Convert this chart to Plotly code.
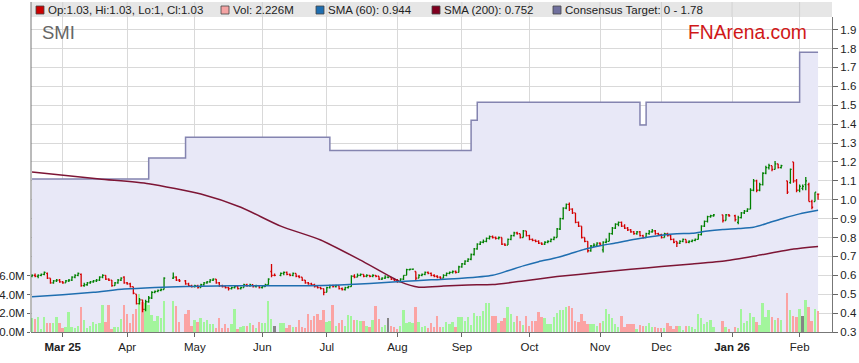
import pandas as pd
import plotly.graph_objects as go

N = None
# trading-day slots (weekdays); holidays carry None
weekdays = pd.bdate_range("2025-02-17", "2026-02-10")

opens = [
 .595,.60,.595,.60,.605,.61,.585,.56,.57,.575,
 .565,.56,.57,.575,.59,.60,.605,.545,.55,.56,
 .565,.57,.575,.59,.60,.58,.575,.545,.56,.575,
 .59,.56,.555,.54,.50,.45,.47,.42,.46,.48,
 .51,.515,.52,.525,N,N,.585,.59,.575,N,
 .57,.555,.545,.54,.545,.535,.55,.56,.565,.575,
 .58,.56,.545,.54,.535,.53,.535,.54,.53,.535,
 .55,.545,.55,.54,.545,.535,.54,.55,.62,.60,
 N,.60,.61,.615,.605,.60,.61,.595,.59,.575,
 .56,.555,.55,.54,.535,.53,.51,.535,.545,.54,
 .545,.53,.525,.535,.54,.595,.59,.60,.605,.595,
 .60,.595,.60,.595,.58,.585,.59,.59,.58,.575,
 .565,.58,.60,.63,.632,.62,.585,.60,.605,.615,
 .61,.60,.595,.59,.585,.60,.61,.615,.62,.615,
 .645,.66,.675,.685,.71,.74,.765,.775,.78,.795,
 .805,.80,.795,.80,.765,.76,.79,.81,.825,.82,
 .80,.835,.81,.79,.785,.78,.77,.765,.775,.78,
 .79,.80,.845,.90,.955,.975,.95,.93,.88,.86,
 .80,.78,.73,.755,.76,.77,.735,.775,.78,.82,
 .85,.87,.88,.86,.85,.84,.83,.82,.83,.81,
 .80,.82,.83,.835,.82,.815,.80,.82,.81,.79,
 .78,.77,.78,.79,.775,.78,.785,.79,.815,.86,
 .885,.91,.915,N,N,.92,.89,.92,N,.915,
 .88,.905,.93,.94,.95,1.05,1.10,1.05,1.08,1.14,
 1.17,1.18,1.16,1.19,1.17,N,1.10,1.09,1.20,1.10,
 1.05,1.06,1.08,1.08,.99,.99,1.03]
highs = [
 .605,.61,.605,.61,.62,.615,.585,.575,.58,.58,
 .57,.575,.58,.595,.605,.615,.61,.56,.565,.57,
 .575,.58,.595,.605,.60,.585,.575,.565,.58,.59,
 .595,.565,.56,.54,.50,.48,.47,.47,.49,.515,
 .52,.525,.53,.59,N,N,.615,.595,.58,N,
 .575,.56,.55,.55,.55,.555,.565,.57,.58,.585,
 .58,.565,.55,.545,.54,.54,.545,.545,.54,.555,
 .555,.555,.55,.55,.545,.545,.555,.585,.66,.61,
 N,.615,.62,.62,.61,.615,.61,.60,.59,.575,
 .565,.56,.555,.545,.54,.53,.54,.55,.55,.55,
 .545,.535,.54,.545,.60,.605,.61,.61,.605,.605,
 .60,.605,.60,.595,.59,.60,.595,.59,.585,.58,
 .585,.60,.635,.635,.635,.62,.605,.61,.62,.62,
 .615,.605,.60,.595,.605,.615,.62,.625,.625,.65,
 .665,.68,.69,.715,.745,.77,.78,.79,.80,.81,
 .81,.805,.805,.80,.77,.795,.815,.83,.83,.82,
 .84,.835,.815,.795,.79,.785,.775,.78,.785,.795,
 .805,.85,.905,.96,.98,.985,.955,.93,.885,.86,
 .80,.78,.76,.77,.775,.775,.78,.795,.825,.855,
 .875,.885,.885,.87,.855,.845,.835,.835,.835,.815,
 .825,.84,.845,.84,.825,.82,.825,.825,.815,.795,
 .78,.785,.795,.79,.785,.79,.795,.82,.865,.89,
 .915,.92,.925,N,N,.92,.925,.925,N,.92,
 .915,.935,.945,.955,1.06,1.11,1.105,1.09,1.145,1.18,
 1.19,1.18,1.205,1.19,1.185,N,1.10,1.165,1.20,1.11,
 1.08,1.08,1.12,1.09,1.00,1.04,1.03]
lows = [
 .59,.59,.585,.595,.60,.58,.555,.555,.565,.56,
 .555,.56,.565,.57,.585,.595,.54,.54,.545,.555,
 .56,.565,.57,.585,.575,.57,.54,.545,.555,.57,
 .555,.55,.535,.50,.445,.445,.405,.41,.455,.475,
 .505,.51,.515,.525,N,N,.58,.57,.565,N,
 .55,.54,.535,.535,.53,.535,.545,.555,.56,.57,
 .555,.54,.535,.53,.52,.525,.53,.525,.525,.535,
 .54,.54,.535,.535,.53,.53,.54,.55,.59,.595,
 N,.595,.60,.60,.595,.595,.59,.585,.57,.555,
 .55,.545,.535,.53,.525,.495,.51,.53,.535,.535,
 .525,.52,.52,.53,.54,.585,.59,.595,.59,.59,
 .59,.59,.59,.575,.575,.58,.585,.575,.57,.56,
 .565,.575,.60,.625,.63,.575,.585,.595,.60,.605,
 .595,.59,.585,.58,.585,.595,.605,.61,.61,.615,
 .64,.655,.67,.68,.705,.735,.76,.77,.775,.79,
 .795,.79,.79,.76,.755,.76,.785,.805,.815,.795,
 .80,.805,.785,.78,.775,.765,.76,.76,.77,.775,
 .785,.80,.84,.895,.95,.94,.925,.875,.855,.795,
 .775,.72,.725,.75,.755,.755,.72,.77,.78,.815,
 .845,.86,.855,.845,.835,.825,.815,.815,.805,.795,
 .80,.815,.825,.815,.81,.795,.80,.805,.785,.77,
 .75,.765,.775,.77,.77,.775,.78,.79,.81,.855,
 .88,.905,.91,N,N,.88,.89,.91,N,.885,
 .87,.90,.925,.935,.95,1.045,1.04,1.045,1.075,1.135,
 1.16,1.15,1.16,1.165,1.165,N,1.03,1.085,1.09,1.04,
 1.04,1.05,1.05,.99,.95,.99,1.00]
closes = [
 .60,.595,.60,.605,.615,.585,.56,.57,.575,.565,
 .56,.57,.575,.59,.60,.61,.545,.55,.56,.565,
 .57,.575,.59,.60,.58,.575,.545,.56,.575,.585,
 .56,.555,.54,.505,.45,.47,.42,.46,.48,.51,
 .515,.52,.525,.585,N,N,.59,.575,.57,N,
 .555,.545,.54,.545,.535,.55,.56,.565,.575,.58,
 .56,.545,.54,.535,.53,.535,.54,.53,.535,.55,
 .545,.55,.54,.545,.535,.54,.55,.58,.60,.60,
 N,.61,.615,.605,.60,.61,.595,.59,.575,.56,
 .555,.55,.54,.535,.53,.51,.535,.545,.54,.545,
 .53,.525,.535,.54,.595,.59,.60,.605,.595,.60,
 .595,.60,.595,.58,.585,.59,.59,.58,.575,.565,
 .58,.60,.63,.632,.633,.585,.60,.605,.615,.61,
 .60,.595,.59,.585,.60,.61,.615,.62,.615,.645,
 .66,.675,.685,.71,.74,.765,.775,.78,.795,.805,
 .80,.795,.80,.765,.76,.79,.81,.825,.82,.80,
 .835,.81,.79,.785,.78,.77,.765,.775,.78,.79,
 .80,.845,.90,.955,.975,.95,.93,.88,.86,.80,
 .78,.73,.755,.76,.77,.765,.775,.78,.82,.85,
 .87,.88,.86,.85,.84,.83,.82,.83,.81,.80,
 .82,.83,.835,.82,.815,.80,.82,.81,.79,.775,
 .77,.78,.79,.775,.78,.785,.79,.815,.86,.885,
 .91,.915,.92,N,N,.89,.92,.915,N,.895,
 .905,.93,.94,.95,1.05,1.10,1.05,1.08,1.14,1.17,
 1.18,1.16,1.19,1.17,1.18,N,1.04,1.16,1.10,1.05,
 1.07,1.07,1.10,.99,.96,1.04,1.03]
volumes_m = [
 1.5,1.4,1.6,0.32,1.6,0.93,1.0,0.93,1.6,0.93,
 0.46,0.55,2.15,0.55,0.46,0.62,2.7,1.27,0.46,0.68,
 1.1,0.82,0.93,2.85,1.1,2.85,0.32,0.57,0.57,1.35,
 2.85,1.95,0.93,1.95,2.5,4.1,3.24,3.1,2.85,1.8,
 1.17,1.7,1.46,3.35,N,N,3.35,2.8,1.1,N,
 1.9,2.35,0.68,1.28,1.1,1.46,1.1,1.28,0.82,0.82,
 0.46,1.46,0.46,0.82,0.4,0.86,2.5,0.29,0.5,0.64,
 0.64,0.93,0.75,0.39,1.1,0.93,1.0,3.3,1.39,0.64,
 N,1.0,0.93,0.46,0.75,0.5,0.57,1.28,0.5,0.39,
 1.93,1.28,1.71,1.93,1.28,2.35,1.1,1.18,2.9,0.64,
 1.0,1.28,0.64,1.82,1.71,1.28,1.28,1.21,1.21,0.64,
 0.5,1.28,2.78,1.39,0.5,0.75,1.46,0.64,0.5,0.32,
 0.64,2.35,1.0,1.1,1.0,2.7,1.1,0.5,0.64,0.4,
 0.93,0.57,1.71,0.57,0.57,1.07,0.86,1.1,0.57,1.57,
 1.64,1.21,1.64,0.78,2.0,1.71,1.71,2.28,3.07,3.07,
 1.71,1.71,0.93,1.18,1.46,2.64,1.93,1.11,1.71,1.21,
 0.75,1.71,0.64,1.18,1.18,2.18,1.57,1.46,0.86,0.86,
 1.64,2.0,2.35,2.35,2.71,2.78,2.53,1.18,1.11,1.93,
 1.18,0.82,0.82,0.86,0.64,1.0,1.21,2.5,1.93,1.46,
 0.86,0.57,1.71,0.57,0.86,0.86,0.86,0.29,0.75,0.64,
 0.64,0.93,0.57,0.5,0.43,0.43,0.39,0.93,0.64,0.36,
 0.64,0.64,0.14,0.64,0.68,0.57,0.29,1.93,1.53,0.86,
 1.07,1.28,0.5,N,N,1.14,0.57,0.3,N,0.5,
 0.45,2.46,0.93,1.21,2.0,1.57,1.07,0.78,3.14,1.64,
 2.35,1.64,1.28,1.5,1.28,N,4.14,2.35,1.7,1.6,
 2.5,1.7,3.4,2.7,1.2,2.5,2.226]

sma60_idx = [0,10,20,30,40,50,60,70,80,90,100,110,120,130,140,150,155,160,165,170,
             175,180,185,190,195,200,205,210,215,220,225,230,235,240,245,250,256]
sma60_val = [0.487,0.497,0.51,0.527,0.536,0.541,0.544,0.545,0.545,0.545,0.549,0.557,0.567,
             0.576,0.584,0.600,0.624,0.650,0.672,0.690,0.713,0.738,0.756,0.771,0.787,0.800,
             0.812,0.820,0.822,0.834,0.842,0.847,0.854,0.878,0.903,0.925,0.944]
sma200_idx = [0,22,38,55,68,81,94,107,120,126,134,142,150,160,171,185,195,205,215,226,236,248,256]
sma200_val = [1.147,1.11,1.085,1.03,0.96,0.86,0.787,0.68,0.565,0.537,0.543,0.549,0.551,0.57,
              0.593,0.616,0.632,0.646,0.66,0.677,0.704,0.739,0.753]
target_idx = [0,38,50,97,143,145,198,200,250,256]
target_val = [1.11,1.22,1.33,1.26,1.42,1.515,1.395,1.515,1.78,1.78]

month_ticks = ["2025-03-03","2025-04-01","2025-05-01","2025-06-02","2025-07-01","2025-08-01",
               "2025-09-01","2025-10-01","2025-11-03","2025-12-01","2026-01-01","2026-02-02"]
month_labels = ["<b>Mar 25</b>","Apr","May","Jun","Jul","Aug","Sep","Oct","Nov","Dec","<b>Jan 26</b>","Feb"]

assert len(weekdays) == len(opens) == len(highs) == len(lows) == len(closes) == len(volumes_m)

# keep trading days only
rows = [(d, o, h, l, c, v) for d, o, h, l, c, v in zip(weekdays, opens, highs, lows, closes, volumes_m) if c is not None]
dates = [r[0] for r in rows]
O = [r[1] for r in rows]; H = [r[2] for r in rows]; L = [r[3] for r in rows]
C = [r[4] for r in rows]; V = [r[5] for r in rows]

GREEN_V, PINK_V, GRAY_V = "#a2f59c", "#fba3a3", "#858585"
vcol = []
prev = None
for c in C:
    if prev is None or c > prev:
        vcol.append(GREEN_V)
    elif c < prev:
        vcol.append(PINK_V)
    else:
        vcol.append(GRAY_V)
    prev = c

FONT = "Arial, Liberation Sans, sans-serif"
W, Hh = 859, 363
ML, MR, MT, MB = 31, 27, 17, 31
PW, PH = W - ML - MR, Hh - MT - MB
def px(x): return (x - ML) / PW
def py(y): return (Hh - MB - y) / PH

PRICE_RANGE = [0.3, 0.3 + PH / 189.0]
VOL_RANGE = [0, PH / 9.35]

fig = go.Figure()
fig.add_trace(go.Scatter(
    x=[weekdays[i] for i in target_idx], y=target_val, mode="lines",
    line=dict(color="#8484b0", width=1.5, shape="hv"),
    fill="tozeroy", fillcolor="#e8e8f7", hoverinfo="skip", yaxis="y"))
fig.add_trace(go.Bar(
    x=dates, y=V, marker=dict(color=vcol, line=dict(width=0)),
    width=0.62 * 86400000, yaxis="y2"))
fig.add_trace(go.Scatter(
    x=[weekdays[i] for i in sma200_idx], y=sma200_val, mode="lines",
    line=dict(color="#7d1535", width=1.5, shape="spline", smoothing=0.6), yaxis="y3"))
fig.add_trace(go.Scatter(
    x=[weekdays[i] for i in sma60_idx], y=sma60_val, mode="lines",
    line=dict(color="#1f6eb0", width=1.5, shape="spline", smoothing=0.6), yaxis="y3"))
fig.add_trace(go.Ohlc(
    x=dates, open=O, high=H, low=L, close=C, tickwidth=0.4,
    increasing=dict(line=dict(color="#008000", width=1.3)),
    decreasing=dict(line=dict(color="#d40000", width=1.3)),
    yaxis="y3"))

band_top = py(2)
shapes = [dict(type="rect", xref="paper", yref="paper", x0=0, x1=1, y0=1, y1=band_top,
               fillcolor="#e6e6e6", line=dict(width=0), layer="below")]
for t in month_ticks:
    shapes.append(dict(type="line", xref="x", yref="paper", x0=t, x1=t, y0=1, y1=band_top,
                       line=dict(color="#d2d2d2", width=1)))
shapes.append(dict(type="line", xref="paper", yref="paper", x0=0, x1=0, y0=0, y1=band_top,
                   line=dict(color="#777777", width=1)))

legend_items = [
    (36, "#cc0000", "Op:1.03, Hi:1.03, Lo:1, Cl:1.03"),
    (221, "#f4a3a3", "Vol: 2.226M"),
    (316, "#1f6eb0", "SMA (60): 0.944"),
    (432, "#800020", "SMA (200): 0.752"),
    (553, "#70709e", "Consensus Target: 0 - 1.78"),
]
annotations = []
for x0, col, txt in legend_items:
    shapes.append(dict(type="rect", xref="paper", yref="paper", x0=px(x0), x1=px(x0 + 8),
                       y0=py(14), y1=py(6), fillcolor=col, line=dict(color="#444444", width=0.8)))
    annotations.append(dict(xref="paper", yref="paper", x=px(x0 + 10), y=py(10), xanchor="left",
                            yanchor="middle", text=txt, showarrow=False,
                            font=dict(family=FONT, size=11.5, color="#222222")))
annotations.append(dict(xref="paper", yref="paper", x=px(40), y=py(32), xanchor="left", yanchor="middle",
                        text="SMI", showarrow=False, font=dict(family=FONT, size=18.5, color="#666666")))
annotations.append(dict(xref="paper", yref="paper", x=px(686), y=py(32), xanchor="left", yanchor="middle",
                        text="FNArena.com", showarrow=False, font=dict(family=FONT, size=19.3, color="#d01818")))

fig.update_layout(
    width=W, height=Hh, margin=dict(l=ML, r=MR, t=MT, b=MB, autoexpand=False),
    paper_bgcolor="white", plot_bgcolor="white", showlegend=False,
    font=dict(family=FONT, size=11.5, color="#222222"),
    xaxis=dict(type="date", rangebreaks=[dict(bounds=["sat", "mon"])],
               range=["2025-02-14 16:00", "2026-02-16 13:00"], automargin=False,
               tickvals=month_ticks, ticktext=month_labels, ticks="outside", ticklen=4,
               tickcolor="#666666", showgrid=True, gridcolor="#d9d9d9", gridwidth=1,
               showline=True, linecolor="#777777", linewidth=1, rangeslider=dict(visible=False),
               tickfont=dict(family=FONT, size=11.5, color="#222222"), zeroline=False),
    yaxis=dict(range=PRICE_RANGE, side="right", tickmode="linear", tick0=0.3, dtick=0.1,
               tickformat=".1f", ticks="outside", ticklen=5, tickcolor="#666666", automargin=False,
               showgrid=True, gridcolor="#d9d9d9", showline=True, linecolor="#777777",
               zeroline=False, tickfont=dict(family=FONT, size=11.5, color="#222222")),
    yaxis2=dict(range=VOL_RANGE, overlaying="y", side="left", tickvals=[0, 2, 4, 6],
                ticktext=["0.0M", "2.0M", "4.0M", "6.0M"], ticks="outside", ticklen=3,
                tickcolor="#666666", showgrid=False, zeroline=False, showline=False, automargin=False,
                tickfont=dict(family=FONT, size=11.5, color="#222222")),
    yaxis3=dict(range=PRICE_RANGE, overlaying="y", visible=False, showgrid=False, zeroline=False),
    shapes=shapes, annotations=annotations, bargap=0,
)
fig.write_html("out.html", config={"displayModeBar": False},
               post_script="document.body.style.margin='0px';document.body.style.overflow='hidden';")
